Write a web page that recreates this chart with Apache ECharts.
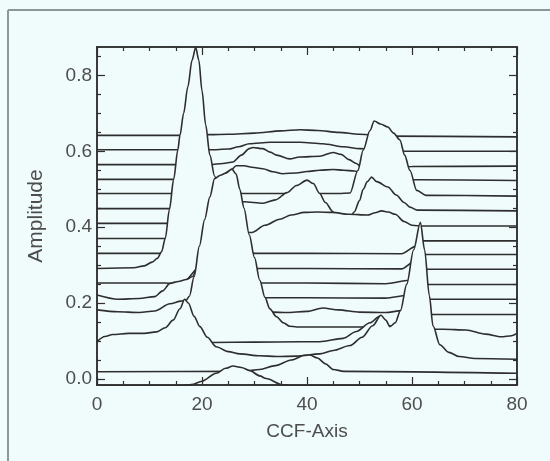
<!DOCTYPE html>
<html>
<head>
<meta charset="utf-8">
<script src="https://cdn.jsdelivr.net/npm/echarts@6/dist/echarts.min.js"></script>
<style>
  html, body { margin: 0; padding: 0; background: #f0fbfb; }
  #chart { width: 550px; height: 461px; }
</style>
</head>
<body>
<div id="chart"></div>
<script>
// stacked CCF traces, back (top) to front (bottom); points are [ccf, amplitude]
var traceQ = [[0,0.642],[15.8,0.642],[21.5,0.644],[25,0.645],[30,0.648],[35,0.654],[38.7,0.657],[42,0.655],[46,0.65],[50,0.645],[55,0.64],[80,0.638]];
var traceP = [[0,0.604],[15.4,0.604],[21.5,0.604],[25,0.606],[27,0.612],[29,0.62],[33,0.624],[38.7,0.624],[43,0.62],[47,0.612],[50,0.607],[55,0.6],[80,0.6]];
var traceO = [[0,0.565],[15,0.565],[21.5,0.565],[24,0.568],[25.9,0.572],[27.5,0.59],[29,0.607],[29.7,0.61],[31.6,0.607],[33,0.598],[34.2,0.59],[36.7,0.58],[38.6,0.585],[42.4,0.587],[45,0.597],[46.5,0.592],[48,0.578],[49.4,0.568],[50.3,0.559],[55,0.555],[60,0.56],[80,0.561]];
var traceN = [[0,0.526],[14.6,0.526],[20,0.525],[23,0.53],[25.5,0.55],[26.5,0.562],[28,0.562],[29.5,0.558],[31.6,0.554],[33.5,0.546],[35.4,0.541],[38,0.543],[40,0.547],[42.4,0.55],[45,0.552],[47,0.55],[49,0.548],[51,0.54],[56,0.525],[61.5,0.525],[80,0.523]];
var traceM = [[0,0.489],[14.2,0.489],[27,0.489],[36,0.489],[42,0.489],[46,0.489],[48.2,0.49],[49.7,0.55],[50.7,0.603],[52,0.655],[52.8,0.68],[54,0.672],[55.4,0.664],[56.5,0.648],[57.7,0.63],[58.6,0.59],[59.6,0.55],[60.9,0.497],[62.7,0.484],[80,0.482]];
var traceL = [[0,0.449],[13.8,0.449],[20,0.46],[25,0.465],[28,0.467],[31.6,0.463],[34,0.472],[36.2,0.491],[38,0.51],[40,0.524],[41.2,0.515],[42.4,0.489],[43.5,0.465],[45,0.44],[46,0.425],[47,0.415],[48,0.42],[49,0.44],[50,0.47],[50.7,0.5],[51.5,0.52],[52.3,0.532],[53.3,0.52],[55.4,0.506],[57,0.485],[58.5,0.465],[59.6,0.453],[61,0.445],[80,0.443]];
var traceK = [[0,0.41],[13.4,0.41],[20,0.4],[25,0.39],[29.5,0.386],[32,0.405],[34.8,0.421],[37,0.432],[39.5,0.439],[42,0.44],[44.8,0.439],[48,0.434],[51.5,0.432],[53,0.438],[54.2,0.443],[55.5,0.44],[56.8,0.434],[58.5,0.415],[60,0.405],[62,0.403],[80,0.403]];
var traceJ = [[0,0.37],[13,0.37],[20,0.36],[25,0.345],[29,0.335],[30,0.331],[40,0.331],[58,0.33],[60.8,0.35],[61.6,0.364],[80,0.364]];
var traceI = [[0,0.331],[12.2,0.331],[16,0.33],[22,0.33],[26,0.32],[29,0.3],[30.5,0.291],[40,0.291],[58,0.29],[60.5,0.31],[61.5,0.328],[80,0.328]];
var traceH = [[0,0.291],[7,0.293],[9,0.298],[10.5,0.308],[11.5,0.318],[12.3,0.335],[13,0.37],[13.8,0.447],[14.6,0.526],[15.4,0.604],[15.8,0.642],[16.5,0.7],[17.3,0.77],[18.1,0.84],[18.8,0.874],[19.4,0.84],[20,0.76],[20.7,0.67],[21.5,0.59],[22.4,0.535],[23.5,0.48],[25,0.4],[27,0.33],[29,0.28],[30.2,0.26],[31,0.253],[40,0.253],[55,0.251],[59.5,0.26],[61,0.28],[62.5,0.289],[80,0.289]];
var traceG = [[0,0.253],[13,0.253],[16,0.25],[20,0.3],[24,0.34],[28,0.3],[30.5,0.24],[31.8,0.214],[40,0.214],[55,0.213],[59,0.22],[61,0.24],[63,0.249],[80,0.249]];
var traceF = [[0,0.221],[4,0.21],[8,0.212],[11,0.217],[12.5,0.232],[13.9,0.252],[15.5,0.257],[17,0.262],[18.2,0.27],[19.5,0.31],[21,0.36],[24,0.4],[27,0.37],[29,0.3],[31,0.23],[32.4,0.19],[33.5,0.176],[36,0.175],[40,0.178],[43,0.187],[46,0.182],[50,0.176],[55,0.175],[58,0.18],[61,0.2],[63,0.21],[80,0.21]];
var traceE = [[0,0.182],[4,0.177],[8,0.175],[11,0.179],[13.9,0.198],[16,0.205],[17,0.208],[17.6,0.218],[18.5,0.27],[19.5,0.35],[20.5,0.42],[21.5,0.48],[22.4,0.528],[23.5,0.537],[24.5,0.542],[25.7,0.553],[26.5,0.54],[27.2,0.5],[28,0.45],[29,0.38],[30,0.32],[31,0.26],[32,0.215],[32.9,0.185],[34.2,0.164],[35.5,0.148],[36.7,0.139],[38,0.137],[45,0.137],[50,0.137],[55,0.137],[58,0.145],[61,0.165],[63,0.17],[80,0.17]];
var traceC = [[0,0.09],[18,0.09],[20,0.094],[22,0.096],[30,0.097],[38.6,0.098],[42.4,0.098],[46.9,0.107],[49.4,0.125],[52,0.148],[53.9,0.166],[55.5,0.14],[57,0.135],[60,0.133],[63,0.131],[66,0.131],[70.3,0.129],[74,0.118],[77,0.111],[79,0.114],[80,0.12]];
var traceX = [[0,0.098],[1.5,0.112],[3,0.117],[6,0.12],[9,0.12],[11.3,0.124],[13,0.135],[14.5,0.155],[15.8,0.185],[16.7,0.21],[17.4,0.2],[18.5,0.165],[19.6,0.138],[21,0.11],[22.7,0.085],[25,0.072],[27.2,0.066],[31,0.061],[34.2,0.059],[38,0.06],[42.4,0.066],[45,0.075],[48.2,0.088],[50.5,0.11],[52.5,0.14],[54.1,0.168],[55,0.155],[55.8,0.138],[56.8,0.148],[57.8,0.18],[59,0.25],[60.3,0.34],[61.6,0.413],[62.4,0.34],[63.3,0.22],[64,0.14],[65.3,0.09],[67,0.07],[69,0.059],[72,0.054],[80,0.052]];
var traceB = [[0,0.019],[28,0.02],[31,0.025],[34,0.035],[37,0.05],[39.5,0.062],[40.5,0.063],[42,0.055],[43.5,0.04],[45,0.025],[47,0.02],[80,0.015]];
var traceA = [[0,-0.018],[16,-0.018],[18,-0.015],[20,-0.006],[22.7,0.015],[24.5,0.028],[25.9,0.034],[27.5,0.03],[29.1,0.022],[31,0.008],[32.2,0.001],[35.4,-0.016],[37,-0.018],[80,-0.018]];

var traces = [traceQ, traceP, traceO, traceN, traceM, traceL, traceK, traceJ,
  traceI, traceH, traceG, traceF, traceE, traceC, traceX, traceB, traceA];

var xMajor = [0, 20, 40, 60, 80];
var xMinor = [5, 10, 15, 25, 30, 35, 45, 50, 55, 65, 70, 75];
var yMajor = [0, 0.2, 0.4, 0.6, 0.8];
var yMinor = [0.05, 0.1, 0.15, 0.25, 0.3, 0.35, 0.45, 0.5, 0.55, 0.65, 0.7, 0.75, 0.85];

var bg = '#f0fbfb';
var ink = '#2e2e2e';
var txt = '#4d4d4d';
var font = 'Liberation Sans';

var chart = echarts.init(document.getElementById('chart'));

var series = traces.map(function (t, i) {
  return {
    type: 'line',
    data: t,
    // each trace on its own layer so its fill covers the ones drawn before
    z: 2 + i,
    smooth: 0.3,
    smoothMonotone: 'x',
    showSymbol: false,
    lineStyle: { color: ink, width: 1.6 },
    areaStyle: { color: bg, opacity: 1, origin: 'start' },
    animation: false
  };
});

function xAxis(pos, vals, len, labels) {
  return {
    type: 'value', min: 0, max: 80, position: pos, z: 40,
    axisLine: { onZero: false, lineStyle: { color: ink, width: 1.5 } },
    splitLine: { show: false },
    axisTick: { show: true, inside: true, length: len, customValues: vals, lineStyle: { color: ink, width: 1.2 } },
    axisLabel: labels ? {
      show: true, customValues: vals, color: txt, fontSize: 19, margin: 10, fontFamily: font
    } : { show: false }
  };
}

function yAxis(pos, vals, len, labels) {
  return {
    type: 'value', min: -0.016, max: 0.875, position: pos, z: 40,
    axisLine: { show: true, onZero: false, lineStyle: { color: ink, width: 1.5 } },
    splitLine: { show: false },
    axisTick: { show: true, inside: true, length: len, customValues: vals, lineStyle: { color: ink, width: 1.2 } },
    axisLabel: labels ? {
      show: true, customValues: vals, color: txt, fontSize: 19, margin: 5, fontFamily: font,
      formatter: function (v) { return v.toFixed(1); }
    } : { show: false }
  };
}

var xBottom = xAxis('bottom', xMajor, 8, true);
xBottom.name = 'CCF-Axis';
xBottom.nameLocation = 'middle';
xBottom.nameGap = 37;
xBottom.nameTextStyle = { color: txt, fontSize: 19, fontFamily: font };

var yLeft = yAxis('left', yMajor, 8, true);
yLeft.name = 'Amplitude';
yLeft.nameLocation = 'middle';
yLeft.nameGap = 50;
yLeft.nameTextStyle = { color: txt, fontSize: 21, fontFamily: font };

var option = {
  backgroundColor: bg,
  animation: false,
  grid: { left: 97, right: 33, top: 47, bottom: 76, containLabel: false },
  xAxis: [xBottom, xAxis('bottom', xMinor, 4, false), xAxis('top', xMajor, 8, false), xAxis('top', xMinor, 4, false)],
  yAxis: [yLeft, yAxis('left', yMinor, 4, false), yAxis('right', yMajor, 8, false), yAxis('right', yMinor, 4, false)],
  graphic: [
    { type: 'line', shape: { x1: 8, y1: 10, x2: 8, y2: 461 }, style: { stroke: '#8a9898', lineWidth: 2 } },
    { type: 'line', shape: { x1: 8, y1: 10, x2: 550, y2: 10 }, style: { stroke: '#8a9898', lineWidth: 2 } }
  ],
  series: series
};

chart.setOption(option);
</script>
</body>
</html>
